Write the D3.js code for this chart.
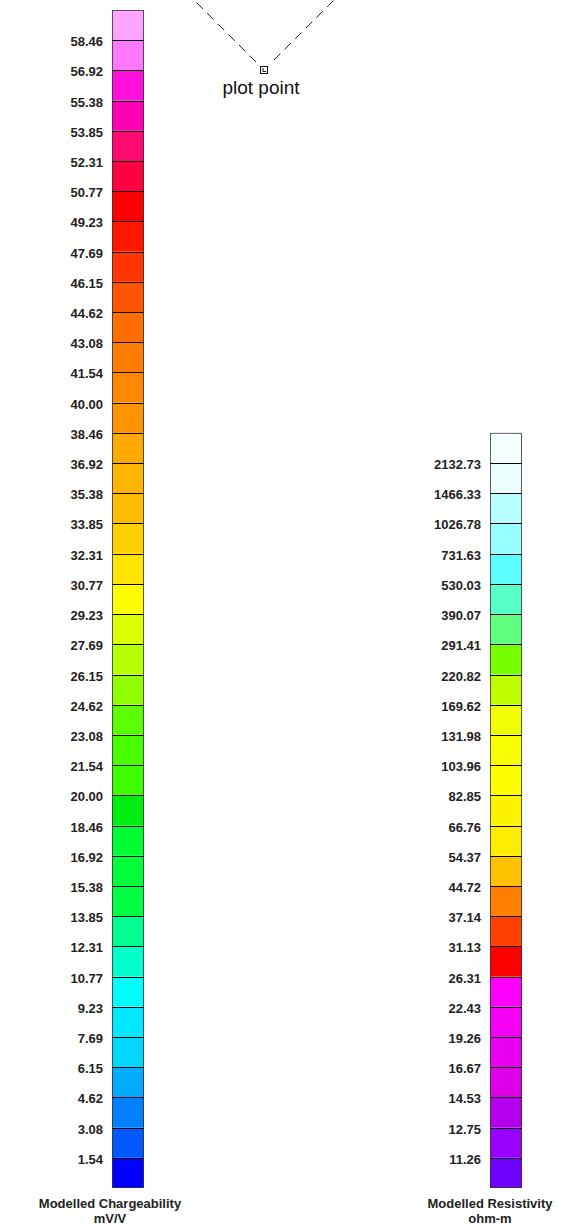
<!DOCTYPE html>
<html>
<head>
<meta charset="utf-8">
<script src="https://cdn.jsdelivr.net/npm/d3@7/dist/d3.min.js"></script>
<style>
  html, body { margin: 0; padding: 0; background: #fff; }
  svg { display: block; }
  .tick-label { font-family: "Liberation Sans", Arial, sans-serif; font-weight: bold; font-size: 13px; fill: #222; }
  .bar-title { font-family: "Liberation Sans", Arial, sans-serif; font-weight: bold; font-size: 13px; fill: #222; }
  .note { font-family: "Liberation Sans", Arial, sans-serif; font-size: 19px; fill: #111; }
</style>
</head>
<body>
<svg id="chart" width="576" height="1231"></svg>
<script>
// Chargeability class boundaries (mV/V), bottom to top
const chargeTicks = [1.54, 3.08, 4.62, 6.15, 7.69, 9.23, 10.77, 12.31, 13.85, 15.38,
  16.92, 18.46, 20.00, 21.54, 23.08, 24.62, 26.15, 27.69, 29.23, 30.77,
  32.31, 33.85, 35.38, 36.92, 38.46, 40.00, 41.54, 43.08, 44.62, 46.15,
  47.69, 49.23, 50.77, 52.31, 53.85, 55.38, 56.92, 58.46];

// Fill of each chargeability class, bottom to top
const chargeColors = ["#0000ff", "#0058ff", "#0080ff", "#00acff", "#00d8ff", "#00e8ff",
  "#00ffff", "#00ffcc", "#00ff90", "#00ff40", "#00ff38", "#00ff30", "#00ee10",
  "#40ff00", "#48ff00", "#5cff00", "#90ff00", "#b4ff00", "#dcff00", "#ffff00",
  "#ffe400", "#ffd000", "#ffbc00", "#ffb400", "#ffaa00", "#ff9400", "#ff8800",
  "#ff7c00", "#ff6e00", "#ff5400", "#ff3400", "#ff1800", "#ff0000", "#ff0040",
  "#ff0a70", "#ff00b4", "#ff10dc", "#ff78ff", "#ffa4ff"];

// Resistivity class boundaries (ohm-m), bottom to top
const resistTicks = [11.26, 12.75, 14.53, 16.67, 19.26, 22.43, 26.31, 31.13, 37.14,
  44.72, 54.37, 66.76, 82.85, 103.96, 131.98, 169.62, 220.82, 291.41, 390.07,
  530.03, 731.63, 1026.78, 1466.33, 2132.73];

// Fill of each resistivity class, bottom to top
const resistColors = ["#7000ff", "#9800ff", "#b400ec", "#e000e8", "#e800f0", "#f400f4",
  "#ff00ff", "#ff0000", "#ff4000", "#ff8000", "#ffc000", "#ffec00", "#fff400",
  "#ffff00", "#f8ff00", "#f0ff00", "#c0ff00", "#78ff00", "#60ff80", "#58ffc8",
  "#5cffff", "#98ffff", "#b8ffff", "#ecffff", "#f4ffff"];

const chargeTitle = ["Modelled Chargeability", "mV/V"];
const resistTitle = ["Modelled Resistivity", "ohm-m"];
const noteText = "plot point";

const svg = d3.select("#chart");

// Both colour bars share one class height and a common bottom edge
const barBottom = 1188;
const classH = (1188 - 10) / chargeColors.length;
const barW = 32;

function colourBar(x, ticks, colors, title, titleDx) {
  const n = colors.length;
  const y = d3.scaleLinear().domain([0, n]).range([barBottom, barBottom - n * classH]);
  const g = svg.append("g");

  g.selectAll("rect.cls")
    .data(colors)
    .join("rect")
    .attr("class", "cls")
    .attr("x", x)
    .attr("y", (d, i) => y(i + 1))
    .attr("width", barW)
    .attr("height", classH)
    .attr("fill", d => d);

  // class boundary lines
  g.selectAll("line.sep")
    .data(ticks)
    .join("line")
    .attr("class", "sep")
    .attr("x1", x)
    .attr("x2", x + barW)
    .attr("y1", (d, i) => Math.round(y(i + 1)) + 0.5)
    .attr("y2", (d, i) => Math.round(y(i + 1)) + 0.5)
    .attr("stroke", "#000")
    .attr("stroke-width", 1);

  // outline
  g.append("rect")
    .attr("x", x + 0.5)
    .attr("y", y(n) + 0.5)
    .attr("width", barW - 1)
    .attr("height", n * classH - 1)
    .attr("fill", "none")
    .attr("stroke", "#333")
    .attr("stroke-opacity", 0.8)
    .attr("stroke-width", 1);

  g.selectAll("text.tick-label")
    .data(ticks)
    .join("text")
    .attr("class", "tick-label")
    .attr("x", x - 9)
    .attr("y", (d, i) => y(i + 1) + 6)
    .attr("text-anchor", "end")
    .text(d => d.toFixed(2));

  g.selectAll("text.bar-title")
    .data(title)
    .join("text")
    .attr("class", "bar-title")
    .attr("x", x + titleDx)
    .attr("y", (d, i) => 1208 + i * 14.7)
    .attr("text-anchor", "middle")
    .text(d => d);
}

colourBar(112, chargeTicks, chargeColors, chargeTitle, -2);
colourBar(490, resistTicks, resistColors, resistTitle, 0);

// "plot point" key: marker with two dashed sight lines
const px = 264, py = 70;
const sight = svg.append("g")
  .attr("stroke", "#222")
  .attr("stroke-width", 1)
  .attr("stroke-dasharray", "9,6")
  .attr("fill", "none");
sight.append("line")
  .attr("x1", px - 8).attr("y1", py - 8)
  .attr("x2", px - 90).attr("y2", py - 90);
sight.append("line")
  .attr("x1", px + 10).attr("y1", py - 10)
  .attr("x2", px + 90).attr("y2", py - 90);

const mk = svg.append("g").attr("transform", `translate(${px},${py})`);
mk.append("rect")
  .attr("x", -3.5).attr("y", -3.5)
  .attr("width", 7).attr("height", 7)
  .attr("fill", "#fff")
  .attr("stroke", "#111")
  .attr("stroke-width", 1);
mk.append("path")
  .attr("d", "M-1,-2V1.5H2")
  .attr("fill", "none")
  .attr("stroke", "#111")
  .attr("stroke-width", 1);

svg.append("text")
  .attr("class", "note")
  .attr("x", px - 3)
  .attr("y", 94)
  .attr("text-anchor", "middle")
  .text(noteText);
</script>
</body>
</html>
